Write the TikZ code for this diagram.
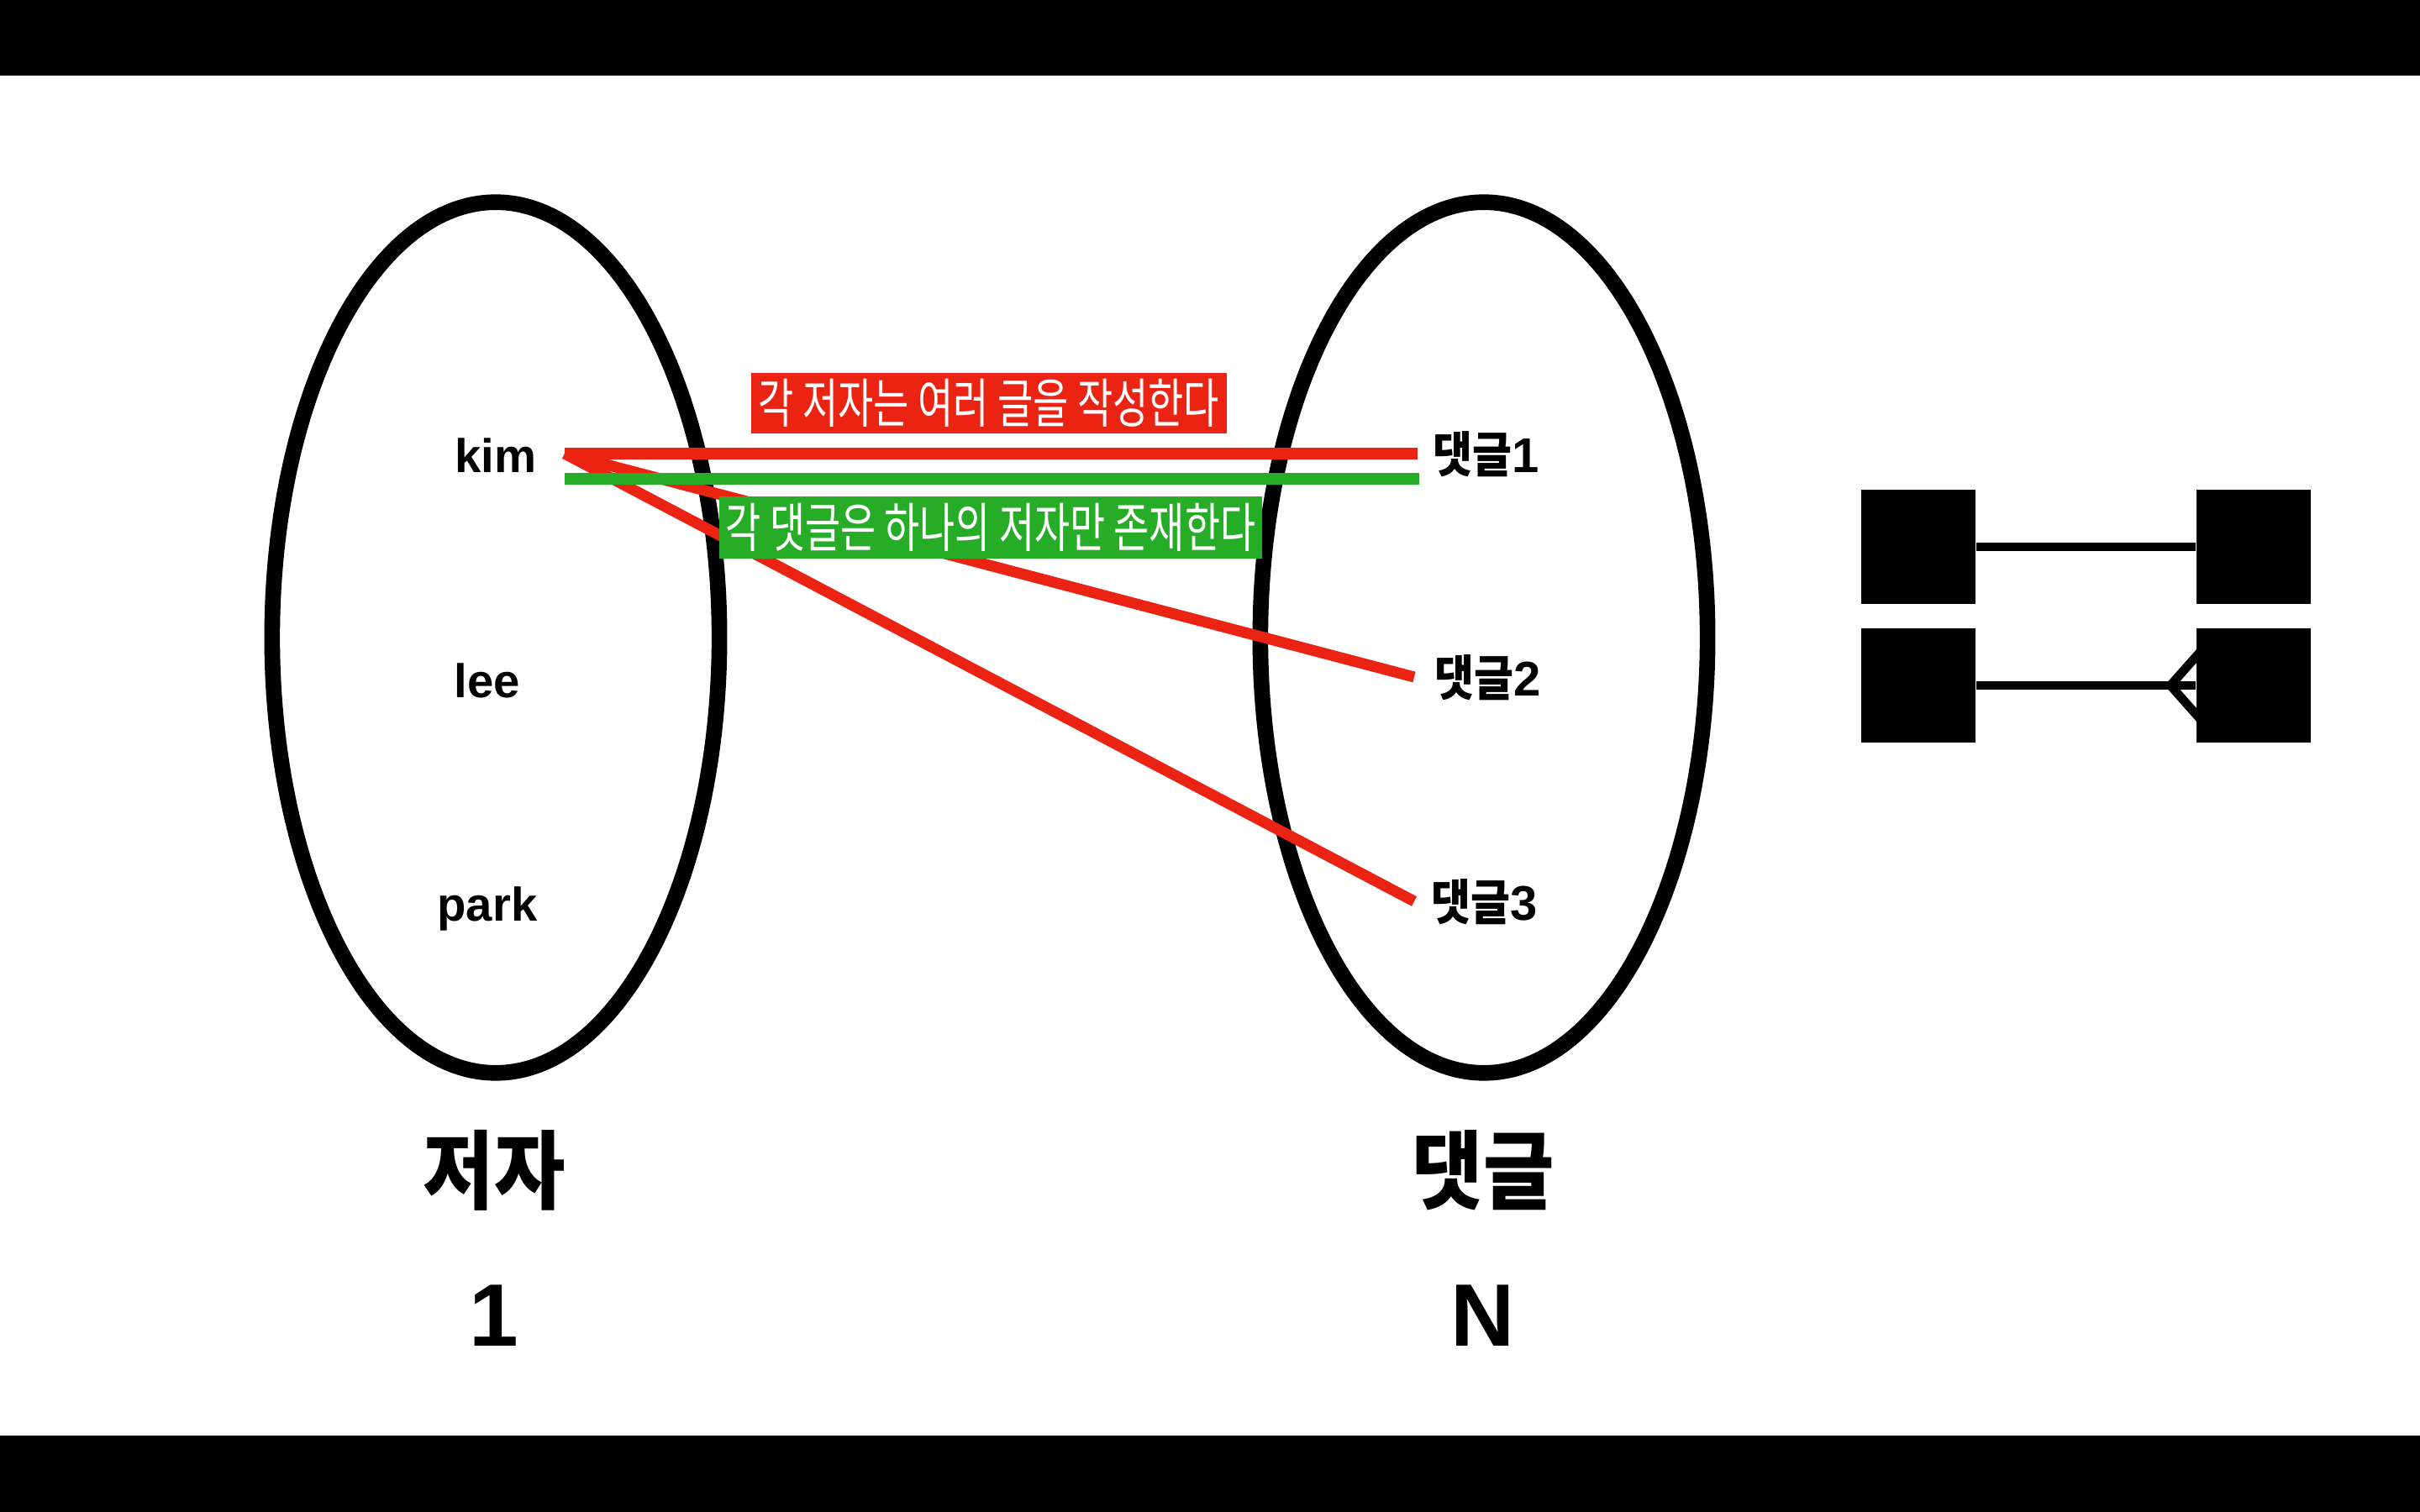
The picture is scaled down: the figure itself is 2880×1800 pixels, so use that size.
\documentclass[tikz,border=0pt]{standalone}
\usepackage{fontspec}
\usepackage{graphicx}
\setmainfont{Liberation Sans}
\newfontfamily\kr{Noto Sans CJK KR}
\usetikzlibrary{shapes.geometric}
\definecolor{rd}{RGB}{234,35,18}
\definecolor{gr}{RGB}{38,172,38}
\begin{document}
\begin{tikzpicture}[x=0.01cm,y=-0.01cm,
  setell/.style={draw=black, ellipse, line width=5.3pt, minimum width=5.32cm, minimum height=10.36cm, inner sep=0pt},
  item/.style={anchor=base, inner sep=0pt, font=\bfseries\fontsize{16}{18}\selectfont},
  kitem/.style={anchor=base, inner sep=0pt, font=\bfseries\fontsize{16.5}{18}\selectfont},
  title/.style={anchor=base, inner sep=0pt, font=\bfseries\fontsize{29}{32}\selectfont},
  card/.style={anchor=base, inner sep=0pt, font=\bfseries\fontsize{30}{32}\selectfont},
  link/.style={line width=3.7pt, line cap=butt},
  tag/.style={inner sep=0pt, text=white},
  erbox/.style={fill=black, minimum size=1.36cm, inner sep=0pt},
  er/.style={line width=3pt, black}
]
\useasboundingbox (0,0) rectangle (2880,1800);
\fill[black] (0,0) rectangle (2880,90);
\fill[black] (0,1709) rectangle (2880,1800);

\node[setell] (L) at (590,759) {};
\node[setell] (R) at (1766,759) {};

\node[item] (kim) at (590,562) {kim};
\node[item] (lee) at (580,830) {lee};
\node[item] (park) at (580,1096) {park};

\node[kitem] (c1) at (1769,562) {\scalebox{0.88}[1]{\kr 댓글}1};
\node[kitem] (c2) at (1771,828) {\scalebox{0.88}[1]{\kr 댓글}2};
\node[kitem] (c3) at (1767,1095) {\scalebox{0.88}[1]{\kr 댓글}3};

\node[title] (t1) at (588,1431) {\scalebox{0.9}[1]{\kr 저자}};
\node[title] (t2) at (1765,1431) {\scalebox{0.9}[1]{\kr 댓글}};
\node[card] (n1) at (588,1602) {1};
\node[card] (n2) at (1765,1602) {N};

\coordinate (ks) at (672,540);
\coordinate (e1) at (1687,540);
\coordinate (e2) at (1683,806);
\coordinate (e3) at (1683,1073);
\coordinate (gs) at (672,570);
\coordinate (ge) at (1689,570);

\draw[link, rd] (ks) -- (e1);
\draw[link, rd] (ks) -- (e2);
\draw[link, rd] (ks) -- (e3);
\draw[link, gr] (gs) -- (ge);

\node[tag, fill=rd, minimum width=5.66cm, minimum height=0.72cm] (lab1) at (1177,480)
  {\resizebox{5.48cm}{\height}{\kr\fontsize{18}{20}\selectfont 각 저자는 여러 글을 작성한다}};
\node[tag, fill=gr, minimum width=6.46cm, minimum height=0.74cm] (lab2) at (1179,628)
  {\resizebox{6.30cm}{\height}{\kr\fontsize{18}{20}\selectfont 각 댓글은 하나의 저자만 존재한다}};

\node[erbox] (a1) at (2283,651) {};
\node[erbox] (a2) at (2682,651) {};
\node[erbox] (b1) at (2283,816) {};
\node[erbox] (b2) at (2682,816) {};
\draw[er] (a1.east) -- (a2.west);
\draw[er] (b1.east) -- (b2.west);
\coordinate (cf) at (2583,816);
\coordinate (cfa) at (2622,772);
\coordinate (cfb) at (2622,860);
\draw[er] (cfa) -- (cf) -- (cfb);
\end{tikzpicture}
\end{document}
